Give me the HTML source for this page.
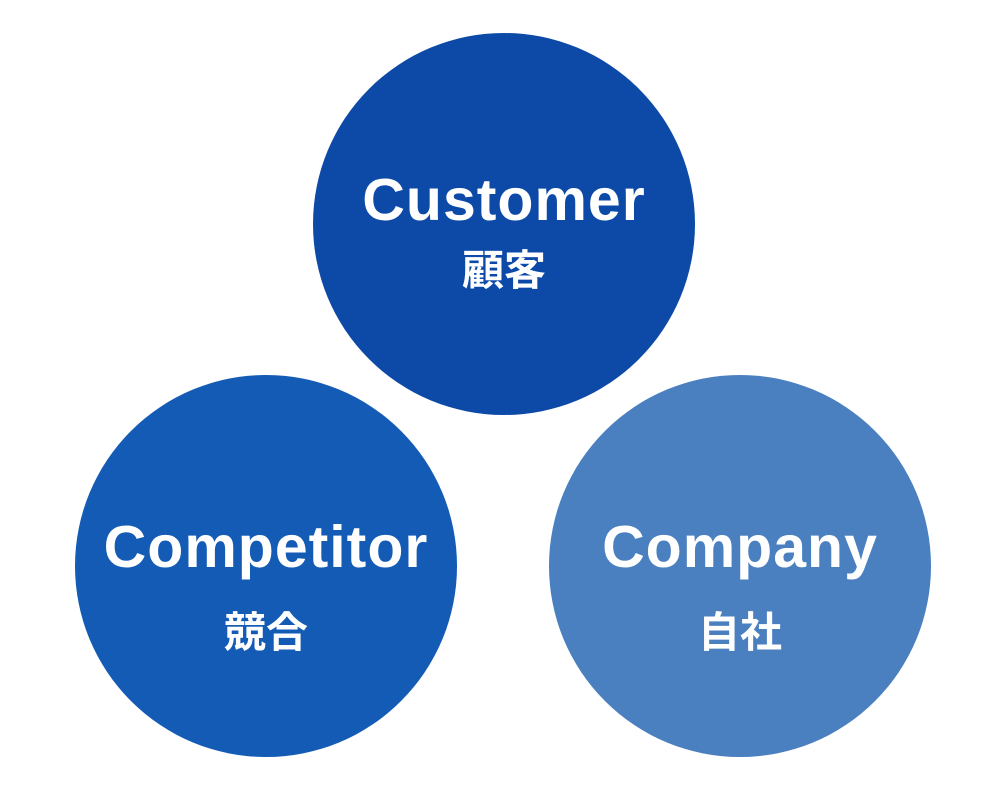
<!DOCTYPE html>
<html><head><meta charset="utf-8"><style>
html,body{margin:0;padding:0;background:#fff;}
body{width:1000px;height:800px;position:relative;overflow:hidden;font-family:"Liberation Sans","Noto Sans CJK JP",sans-serif;}
.c{position:absolute;width:382px;height:382px;border-radius:50%;}
.t{position:absolute;width:400px;text-align:center;color:#fff;font-weight:bold;}
.en{font-size:59px;line-height:60px;letter-spacing:1px;}
.jp{font-size:42px;line-height:42px;font-family:"Liberation Sans","Noto Sans CJK JP",sans-serif;}
</style></head><body>
<div class="c" style="left:313px;top:33px;background:#0d4aa8;"></div>
<div class="c" style="left:75px;top:375px;background:#135bb4;"></div>
<div class="c" style="left:549px;top:375px;background:#4a7fc0;"></div>
<div class="t en" style="left:304px;top:170px;">Customer</div>
<div class="t jp" style="left:304px;top:250px;">顧客</div>
<div class="t en" style="left:66px;top:517px;">Competitor</div>
<div class="t jp" style="left:66px;top:612px;">競合</div>
<div class="t en" style="left:540px;top:517px;">Company</div>
<div class="t jp" style="left:540px;top:612px;">自社</div>
</body></html>
